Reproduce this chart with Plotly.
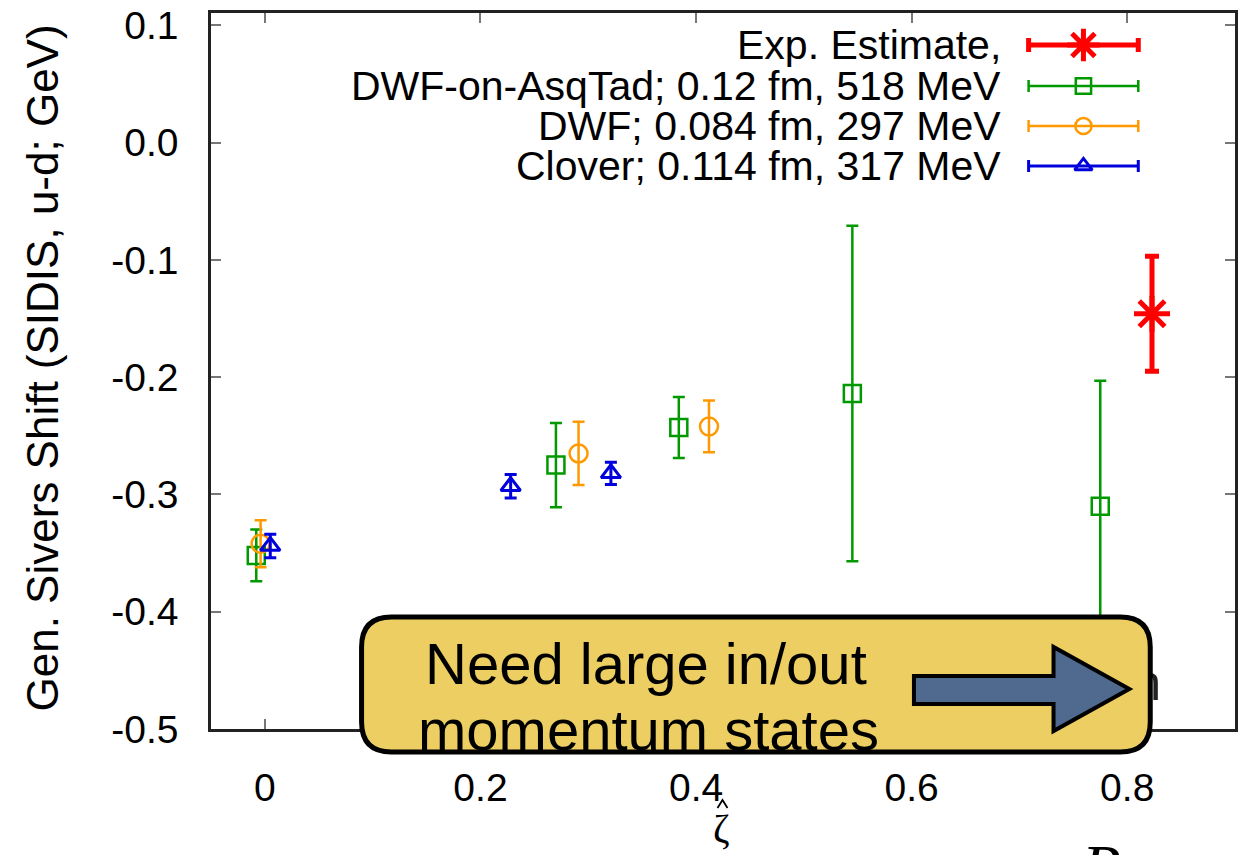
import plotly.graph_objects as go

# ---- data -------------------------------------------------------------
zeta_asqtad = [-0.008, 0.270, 0.384, 0.545, 0.775]
shift_asqtad = [-0.352, -0.275, -0.243, -0.214, -0.310]
err_asqtad = [0.022, 0.036, 0.026, 0.143, 0.107]

zeta_dwf = [-0.004, 0.291, 0.412]
shift_dwf = [-0.342, -0.265, -0.242]
err_dwf = [0.020, 0.027, 0.022]

zeta_clover = [0.005, 0.228, 0.321]
shift_clover = [-0.344, -0.293, -0.282]
err_clover = [0.010, 0.010, 0.0095]

zeta_exp = [0.823]
shift_exp = [-0.146]
err_exp = [0.049]

series_names = [
    "Exp. Estimate,",
    "DWF-on-AsqTad; 0.12 fm, 518 MeV",
    "DWF; 0.084 fm, 297 MeV",
    "Clover; 0.114 fm, 317 MeV",
]

x_tickvals = [0, 0.2, 0.4, 0.6, 0.8]
x_ticktext = ["0", "0.2", "0.4", "0.6", "0.8"]
y_tickvals = [0.1, 0.0, -0.1, -0.2, -0.3, -0.4, -0.5]
y_ticktext = ["0.1", "0.0", "-0.1", "-0.2", "-0.3", "-0.4", "-0.5"]

# ---- styling ------------------------------------------------------------
W, H = 1242, 855
L, R, T, B = 211, 1238, 13, 729  # plot frame in pixels
FONT = "Liberation Sans, Arial, sans-serif"
SERIF = "Liberation Serif, serif"
GREEN, ORANGE, BLUE, RED = "#009900", "#ff9900", "#0000dd", "#ff0000"


def fx(px):
    return (px - L) / (R - L)


def fy(py):
    return (B - py) / (B - T)


styles = [
    dict(color=RED, symbol="asterisk-open", size=30, lw=5, ew=5, cap=7),
    dict(color=GREEN, symbol="square-open", size=17, lw=2.5, ew=2.5, cap=6),
    dict(color=ORANGE, symbol="circle-open", size=18, lw=2.5, ew=2.5, cap=6),
    dict(color=BLUE, symbol="triangle-up-open", size=17, lw=3, ew=3, cap=6),
]
datasets = [
    (zeta_exp, shift_exp, err_exp),
    (zeta_asqtad, shift_asqtad, err_asqtad),
    (zeta_dwf, shift_dwf, err_dwf),
    (zeta_clover, shift_clover, err_clover),
]

fig = go.Figure()

# draw order: green, orange, blue, red on top
for idx in [1, 2, 3, 0]:
    st = styles[idx]
    xs, ys, es = datasets[idx]
    fig.add_trace(go.Scatter(
        x=xs, y=ys, mode="markers", showlegend=False,
        marker=dict(symbol=st["symbol"], size=st["size"], color=st["color"],
                    line=dict(color=st["color"], width=st["lw"])),
        error_y=dict(type="data", array=es, visible=True, color=st["color"],
                     thickness=st["ew"], width=st["cap"]),
    ))

# key samples drawn on a pixel-space overlay axis
key_rows = [45, 86, 126, 166]
key_cx, key_half = 1086, 55
for st, row in zip(styles, key_rows):
    fig.add_trace(go.Scatter(
        x=[key_cx], y=[row], xaxis="x2", yaxis="y2", mode="markers",
        showlegend=False,
        marker=dict(symbol=st["symbol"], size=st["size"] * 0.9, color=st["color"],
                    line=dict(color=st["color"], width=st["lw"])),
        error_x=dict(type="constant", value=key_half, visible=True,
                     color=st["color"], thickness=st["ew"], width=st["cap"]),
    ))

# glyph peeking out behind the callout box
fig.add_trace(go.Scatter(
    x=[1150], y=[687], xaxis="x2", yaxis="y2", mode="text", text=["h"],
    textfont=dict(family=FONT, size=50, color="#222"), showlegend=False,
))

annotations = []
for name, row in zip(series_names, key_rows):
    annotations.append(dict(
        text=name, x=fx(1005), y=fy(row), xref="paper", yref="paper",
        xanchor="right", yanchor="middle", showarrow=False,
        font=dict(family=FONT, size=41, color="black"),
    ))

# y-axis title
annotations.append(dict(
    text="Gen. Sivers Shift (SIDIS, u-d; GeV)", x=fx(42), y=fy(368),
    xref="paper", yref="paper", textangle=-90, showarrow=False,
    xanchor="center", yanchor="middle",
    font=dict(family=FONT, size=44, color="black"),
))

# x-axis title: zeta (hat drawn as a small caret shape below)
annotations.append(dict(
    text="ζ", x=fx(723), y=fy(829), xref="paper", yref="paper",
    showarrow=False, xanchor="center", yanchor="middle",
    font=dict(family=SERIF, size=40, color="black"),
))
annotations.append(dict(
    text="<i>P</i>", x=fx(1104), y=fy(830), xref="paper", yref="paper",
    showarrow=False, xanchor="center", yanchor="top",
    font=dict(family=SERIF, size=64, color="black"),
))

# callout text
annotations.append(dict(
    text="Need large in/out", x=fx(424), y=fy(663), xref="paper", yref="paper",
    showarrow=False, xanchor="left", yanchor="middle",
    font=dict(family=FONT, size=58, color="black"),
))
annotations.append(dict(
    text="momentum states", x=fx(417), y=fy(729), xref="paper", yref="paper",
    showarrow=False, xanchor="left", yanchor="middle",
    font=dict(family=FONT, size=58, color="black"),
))


def rounded_rect(x0, y0, x1, y1, r):
    pts = [
        f"M{fx(x0 + r)},{fy(y0)}",
        f"L{fx(x1 - r)},{fy(y0)}",
        f"Q{fx(x1)},{fy(y0)} {fx(x1)},{fy(y0 + r)}",
        f"L{fx(x1)},{fy(y1 - r)}",
        f"Q{fx(x1)},{fy(y1)} {fx(x1 - r)},{fy(y1)}",
        f"L{fx(x0 + r)},{fy(y1)}",
        f"Q{fx(x0)},{fy(y1)} {fx(x0)},{fy(y1 - r)}",
        f"L{fx(x0)},{fy(y0 + r)}",
        f"Q{fx(x0)},{fy(y0)} {fx(x0 + r)},{fy(y0)}",
        "Z",
    ]
    return " ".join(pts)


def polyline(points, close=False):
    d = "M" + " L".join(f"{fx(x)},{fy(y)}" for x, y in points)
    return d + (" Z" if close else "")


arrow_pts = [(916, 676), (1056, 676), (1056, 647), (1132, 689),
             (1056, 731), (1056, 704), (916, 704)]
hat_pts = [(719, 808), (724, 800), (729, 808)]

shapes = [
    dict(type="path", path=rounded_rect(362, 617, 1153, 752, 30),
         xref="paper", yref="paper", layer="above",
         fillcolor="#ecce62", line=dict(color="black", width=5)),
    dict(type="path", path=polyline(arrow_pts, close=True),
         xref="paper", yref="paper", layer="above",
         fillcolor="#50698e", line=dict(color="black", width=4)),
    dict(type="path", path=polyline(hat_pts), xref="paper", yref="paper",
         line=dict(color="black", width=1.8)),
]

axis_common = dict(
    showline=True, linecolor="#222", linewidth=2.5, mirror="ticks",
    ticks="inside", ticklen=10, tickwidth=1.5, tickcolor="#777",
    showgrid=False, zeroline=False,
    tickfont=dict(family=FONT, size=39, color="black"),
)

fig.update_layout(
    width=W, height=H,
    margin=dict(l=L, r=W - R, t=T, b=H - B, pad=0),
    paper_bgcolor="white", plot_bgcolor="white",
    showlegend=False,
    xaxis=dict(range=[-0.05, 0.9], tickvals=x_tickvals, ticktext=x_ticktext,
               ticklabelstandoff=22, **axis_common),
    yaxis=dict(range=[-0.5, 0.1105], tickvals=y_tickvals, ticktext=y_ticktext,
               ticklabelstandoff=22, **axis_common),
    xaxis2=dict(overlaying="x", range=[L, R], visible=False),
    yaxis2=dict(overlaying="y", range=[B, T], visible=False),
    annotations=annotations,
    shapes=shapes,
)

fig.write_html("out.html")
